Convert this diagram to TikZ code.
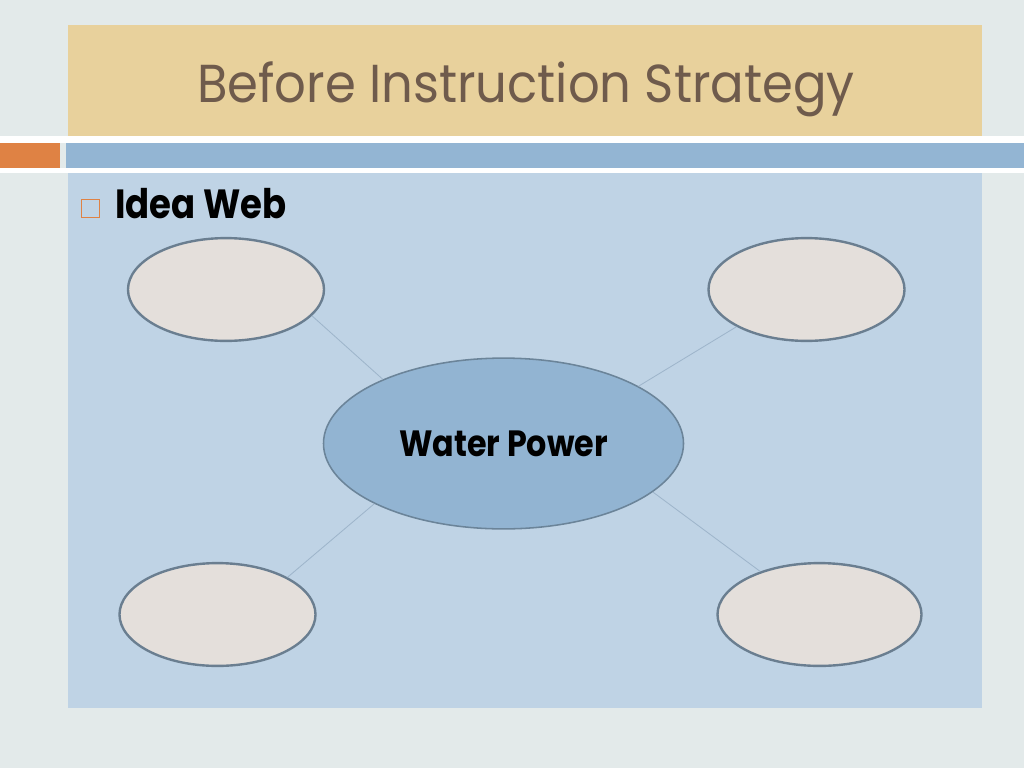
\documentclass[tikz,border=0pt]{standalone}
\usepackage{fontspec}
\setmainfont{Poppins}
\newfontfamily\titlefont[FakeStretch=0.93]{Poppins}
\newfontfamily\labelfont[FakeStretch=0.87]{Poppins}
\usepackage{tikz}
\usetikzlibrary{shapes.geometric}

\definecolor{slidebg}{HTML}{E3EAEA}
\definecolor{titlebg}{HTML}{E8D19C}
\definecolor{titletext}{HTML}{6F5B4C}
\definecolor{accent}{HTML}{DF8244}
\definecolor{barblue}{HTML}{93B5D3}
\definecolor{panel}{HTML}{BFD3E5}
\definecolor{leaffill}{HTML}{E4DFDB}
\definecolor{leafline}{HTML}{6A7E90}
\definecolor{hubfill}{HTML}{92B4D2}
\definecolor{hubline}{HTML}{6B8499}
\definecolor{spoke}{HTML}{9EB5CB}

\begin{document}
\begin{tikzpicture}[x=0.25mm, y=-0.25mm,
  leaf/.style={ellipse, draw=leafline, line width=1.7pt, fill=leaffill,
    minimum width=49mm, minimum height=25.7mm, inner sep=0pt},
  %
  hub/.style={ellipse, draw=hubline, line width=1.1pt, fill=hubfill,
    minimum width=90mm, minimum height=42.7mm, inner sep=0pt,
    font=\labelfont\bfseries\fontsize{26}{30}\selectfont, text=black},
  %
  spokeline/.style={draw=spoke, line width=0.6pt}
  ]

  % slide background and bands
  \fill [slidebg] (0,0) rectangle (1024,768);
  \useasboundingbox (0,0) rectangle (1024,768);
  \fill [titlebg] (68,25) rectangle (982,136);
  \fill [white] (0,136) rectangle (1024,143);
  \fill [accent] (0,143) rectangle (60,168);
  \fill [barblue] (66,143) rectangle (1024,168);
  \fill [white] (0,168) rectangle (1024,173);
  \fill [panel] (68,173) rectangle (982,708);

  \node [anchor=base, text=titletext, font=\titlefont\fontsize{38}{44}\selectfont]
    (title) at (526,102) {Before Instruction Strategy};

  \node [draw=accent, line width=1.4pt, minimum size=4.5mm, inner sep=0pt]
    (bullet) at (90.5,208.5) {};
  \node [anchor=base west, inner sep=0pt,
    font=\labelfont\bfseries\fontsize{29}{34}\selectfont]
    (idea) at (115,218) {Idea Web};

  \begin{scope}
    \node [hub] (water) at (503.5,443.5) {Water Power};
    \node [leaf] (nw) at (226,289.5) {};
    \node [leaf] (ne) at (806.5,289.5) {};
    \node [leaf] (sw) at (217.5,614.5) {};
    \node [leaf, minimum width=51mm] (se) at (819.5,614.5) {};
  \end{scope}

  \begin{scope}
    \draw [spokeline] (water.152) -- (nw.-17.7);
    \draw [spokeline] (water.23.9) -- (ne.208.3);
    \draw [spokeline] (water.205.6) -- (sw.28);
    \draw [spokeline] (water.-18.3) -- (se.144.3);
  \end{scope}

\end{tikzpicture}
\end{document}
